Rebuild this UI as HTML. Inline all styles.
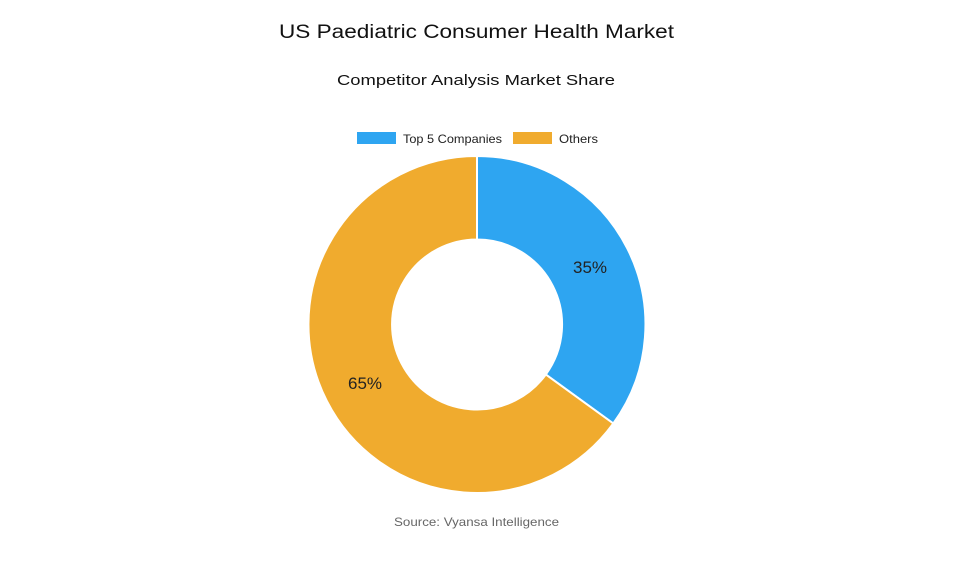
<!DOCTYPE html>
<html><head><meta charset="utf-8"><style>
body{margin:0;width:955px;height:573px;background:#fff;font-family:"Liberation Sans",sans-serif;overflow:hidden}
</style></head><body>
<svg width="955" height="573" xmlns="http://www.w3.org/2000/svg" font-family="Liberation Sans, sans-serif">
<text x="279" y="38" textLength="395" lengthAdjust="spacingAndGlyphs" font-size="19" fill="#111">US Paediatric Consumer Health Market</text>
<text x="337" y="85" textLength="278" lengthAdjust="spacingAndGlyphs" font-size="15" fill="#111">Competitor Analysis Market Share</text>
<rect x="357" y="132" width="39" height="12" fill="#2ea5f1"/>
<text x="403" y="143" textLength="99" lengthAdjust="spacingAndGlyphs" font-size="12" fill="#222">Top 5 Companies</text>
<rect x="513" y="132" width="39" height="12" fill="#f0ab2e"/>
<text x="559" y="143" textLength="39" lengthAdjust="spacingAndGlyphs" font-size="12" fill="#222">Others</text>
<path d="M477 156 A168.5 168.5 0 0 1 613.3 423.5 L545.8 374.5 A85 85 0 0 0 477 239.5 Z" fill="#2ea5f1" stroke="#fff" stroke-width="2"/>
<path d="M613.3 423.5 A168.5 168.5 0 1 1 477 156 L477 239.5 A85 85 0 1 0 545.8 374.5 Z" fill="#f0ab2e" stroke="#fff" stroke-width="2"/>
<text x="590" y="273" text-anchor="middle" font-size="17" fill="#222">35%</text>
<text x="365" y="389" text-anchor="middle" font-size="17" fill="#222">65%</text>
<text x="394" y="526" textLength="165" lengthAdjust="spacingAndGlyphs" font-size="12" fill="#666">Source: Vyansa Intelligence</text>
</svg>
</body></html>
